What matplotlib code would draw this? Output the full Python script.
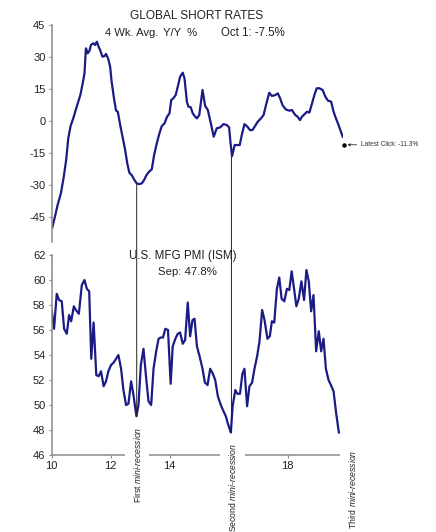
import matplotlib
matplotlib.use("Agg")
import matplotlib.pyplot as plt
from matplotlib.patches import ConnectionPatch

plt.rcParams["font.family"] = ["Liberation Sans", "DejaVu Sans"]
plt.rcParams["mathtext.fontset"] = "custom"
plt.rcParams["mathtext.rm"] = "Liberation Sans"
plt.rcParams["mathtext.it"] = "Liberation Sans:italic"
plt.rcParams["axes.unicode_minus"] = False

# global short rates, 4 wk avg, y/y %
rates_x = [10.02, 10.11, 10.20, 10.31, 10.40, 10.49, 10.56, 10.64, 10.73, 10.82,
           10.90, 10.97, 11.05, 11.11, 11.16, 11.22, 11.28, 11.33, 11.41, 11.47,
           11.53, 11.58, 11.64, 11.72, 11.79, 11.84, 11.92, 11.98, 12.03, 12.11,
           12.18, 12.24, 12.32, 12.40, 12.49, 12.56, 12.63, 12.71, 12.79, 12.88,
           12.96, 13.05, 13.13, 13.21, 13.30, 13.39, 13.47, 13.56, 13.65, 13.73,
           13.82, 13.91, 13.99, 14.05, 14.12, 14.20, 14.27, 14.35, 14.44, 14.50,
           14.58, 14.63, 14.71, 14.78, 14.86, 14.92, 15.00, 15.11, 15.20, 15.29,
           15.38, 15.49, 15.59, 15.71, 15.82, 15.93, 16.01, 16.06, 16.11, 16.20,
           16.30, 16.37, 16.44, 16.53, 16.63, 16.72, 16.80, 16.89, 16.98, 17.09,
           17.18, 17.26, 17.37, 17.46, 17.57, 17.66, 17.74, 17.82, 17.93, 18.05,
           18.14, 18.25, 18.33, 18.41, 18.48, 18.57, 18.65, 18.73, 18.82, 18.91,
           18.98, 19.07, 19.18, 19.27, 19.36, 19.47, 19.55, 19.63, 19.72, 19.80,
           19.86]
rates = [-50.0, -45.0, -39.5, -34.1, -27.0, -18.4, -8.3, -2.5, 1.1, 5.3,
         8.9, 12.0, 17.5, 22.2, 33.9, 31.6, 32.8, 35.5, 36.3, 35.5,
         37.0, 35.0, 33.1, 30.0, 30.3, 31.3, 28.8, 25.3, 18.3, 10.5,
         4.7, 4.2, -2.0, -7.5, -13.8, -20.0, -24.4, -25.5, -27.5, -29.4,
         -29.7, -29.4, -27.8, -25.5, -23.9, -22.8, -16.1, -10.6, -5.9, -2.5,
         -1.3, 1.9, 3.4, 9.7, 10.5, 12.0, 15.9, 20.6, 22.5, 19.8,
         8.9, 6.6, 6.3, 3.4, 1.9, 1.1, 2.7, 14.4, 6.9, 5.0,
         -0.5, -7.5, -3.6, -3.1, -1.6, -2.0, -3.1, -10.6, -16.6, -11.4,
         -11.4, -11.4, -6.7, -1.6, -2.8, -4.4, -4.4, -2.5, -0.5, 1.1,
         2.7, 7.3, 13.1, 11.6, 12.0, 12.8, 10.5, 7.3, 5.3, 4.7,
         5.0, 2.7, 1.9, 0.3, 1.9, 3.1, 4.2, 3.8, 8.1, 12.5,
         15.2, 15.2, 14.4, 11.3, 9.4, 8.9, 4.2, 1.1, -2.0, -5.2,
         -7.5]
latest_x = 19.91
latest_click = -11.3

# ISM manufacturing PMI
pmi_x = [10.00, 10.08, 10.17, 10.25, 10.34, 10.42, 10.51, 10.59, 10.66, 10.75,
         10.82, 10.92, 11.02, 11.11, 11.19, 11.27, 11.34, 11.42, 11.51, 11.59,
         11.67, 11.76, 11.84, 11.92, 12.01, 12.10, 12.18, 12.26, 12.35, 12.43,
         12.52, 12.60, 12.69, 12.77, 12.87, 12.94, 13.02, 13.11, 13.19, 13.28,
         13.37, 13.45, 13.54, 13.62, 13.69, 13.77, 13.85, 13.94, 14.03, 14.10,
         14.19, 14.27, 14.35, 14.44, 14.52, 14.61, 14.69, 14.77, 14.84, 14.92,
         15.01, 15.11, 15.19, 15.28, 15.37, 15.46, 15.54, 15.63, 15.73, 15.82,
         15.90, 15.97, 16.07, 16.13, 16.22, 16.29, 16.38, 16.46, 16.53, 16.62,
         16.70, 16.79, 16.87, 16.96, 17.04, 17.13, 17.21, 17.31, 17.39, 17.46,
         17.54, 17.63, 17.71, 17.79, 17.88, 17.97, 18.05, 18.13, 18.20, 18.29,
         18.37, 18.46, 18.55, 18.63, 18.71, 18.79, 18.87, 18.96, 19.05, 19.13,
         19.21, 19.29, 19.38, 19.46, 19.55, 19.64, 19.73]
pmi = [57.6, 56.1, 58.9, 58.4, 58.3, 56.1, 55.7, 57.2, 56.7, 57.9,
       57.6, 57.3, 59.6, 60.0, 59.3, 59.1, 53.7, 56.6, 52.4, 52.3,
       52.7, 51.5, 51.9, 52.7, 53.2, 53.4, 53.7, 54.0, 52.9, 51.2,
       50.0, 50.1, 51.9, 50.8, 49.1, 50.0, 53.2, 54.5, 52.4, 50.3,
       50.0, 52.9, 54.3, 55.3, 55.4, 55.4, 56.1, 56.0, 51.7, 54.7,
       55.3, 55.7, 55.8, 54.9, 55.2, 58.2, 55.5, 56.8, 56.9, 54.7,
       53.9, 52.9, 51.8, 51.6, 52.9, 52.5, 52.0, 50.7, 50.0, 49.5,
       49.1, 48.5, 47.8, 49.9, 51.2, 50.9, 50.9, 52.5, 52.9, 49.9,
       51.5, 51.8, 52.9, 53.9, 55.1, 57.6, 56.8, 55.3, 55.5, 56.7,
       56.6, 59.3, 60.2, 58.5, 58.3, 59.3, 59.2, 60.7, 59.5, 57.9,
       58.5, 59.9, 58.4, 60.8, 59.9, 57.5, 58.8, 54.3, 55.9, 54.3,
       55.3, 52.9, 52.0, 51.6, 51.1, 49.3, 47.8]

# mini-recession markers: x, low in rates, low in pmi
recession_x = [12.88, 16.09]
recession_rate_low = [-29.7, -16.6]
recession_pmi_low = [49.1, 47.8]
recession_labels = [r"First $\mathit{mini}$-$\mathit{recession}$",
                    r"Second $\mathit{mini}$-$\mathit{recession}$",
                    r"Third $\mathit{mini}$-$\mathit{recession}$"]
label_x = [12.89, 16.11, 20.18]
label_top = [48.24, 46.96, 46.4]

navy = "#1b1b85"
grey = "#8a8a8a"

fig = plt.figure(figsize=(4.36, 5.32), dpi=100)
ax1 = fig.add_axes([0.1186, 0.5457, 0.6688, 0.4079])
ax2 = fig.add_axes([0.1186, 0.1447, 0.6688, 0.3759])

for ax in (ax1, ax2):
    for s in ("top", "right"):
        ax.spines[s].set_visible(False)
    ax.spines["left"].set_color(grey)
    ax.spines["bottom"].set_color(grey)
    ax.spines["left"].set_linewidth(1.1)
    ax.spines["bottom"].set_linewidth(1.1)
    ax.tick_params(direction="out", length=2.5, width=0.8, color=grey,
                   labelsize=8, labelcolor="#222222", pad=2)
    ax.set_xlim(10, 19.88)

ax1.plot(rates_x, rates, color=navy, lw=1.6)
ax1.set_ylim(-56.7, 45)
ax1.set_yticks([45, 30, 15, 0, -15, -30, -45])
ax1.spines["bottom"].set_visible(False)
ax1.set_xticks([])
ax1.plot([latest_x], [latest_click], "o", color="black", ms=2.2, clip_on=False)
ax1.annotate("Latest Click: -11.3%", xy=(latest_x, latest_click),
             xytext=(12, 0), textcoords="offset points", va="center",
             fontsize=4.7, color="#333333", annotation_clip=False,
             arrowprops=dict(arrowstyle="->", color="black", lw=0.5,
                             shrinkA=1, shrinkB=2.5, mutation_scale=4))

ax2.plot(pmi_x, pmi, color=navy, lw=1.6)
ax2.set_ylim(46, 62)
ax2.set_yticks(range(46, 63, 2))
ax2.set_xticks([10, 12, 14, 18])

for x, lo_r, lo_p in zip(recession_x, recession_rate_low, recession_pmi_low):
    con = ConnectionPatch(xyA=(x, lo_r), coordsA=ax1.transData,
                          xyB=(x, lo_p), coordsB=ax2.transData,
                          color="#222222", lw=0.7)
    fig.add_artist(con)

for lx, ly, txt in zip(label_x, label_top, recession_labels):
    ax2.text(lx, ly, txt, rotation=90, ha="center", va="top", fontsize=6.2,
             color="#222222", clip_on=False, zorder=5,
             bbox=dict(facecolor="white", edgecolor="none", pad=5))

fig.text(0.45, 0.970, "GLOBAL SHORT RATES", ha="center", va="center",
         fontsize=8.6, color="#222222")
fig.text(0.241, 0.938, "4 Wk. Avg.", ha="left", va="center", fontsize=8.1,
         color="#222222")
fig.text(0.374, 0.938, "Y/Y  %", ha="left", va="center", fontsize=8.1,
         color="#222222")
fig.text(0.507, 0.938, "Oct 1: -7.5%", ha="left", va="center", fontsize=8.3,
         color="#222222")
fig.text(0.42, 0.519, "U.S. MFG PMI (ISM)", ha="center", va="center",
         fontsize=8.4, color="#222222")
fig.text(0.429, 0.489, "Sep: 47.8%", ha="center", va="center",
         fontsize=8.2, color="#222222")

plt.savefig("out.png", dpi=100)
